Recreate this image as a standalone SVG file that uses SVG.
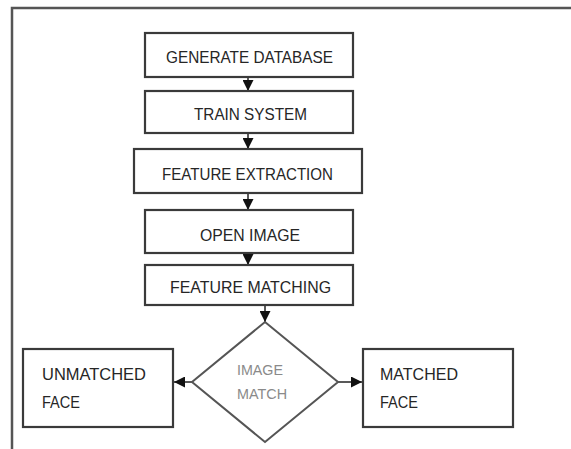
<svg xmlns="http://www.w3.org/2000/svg" width="571" height="449" viewBox="0 0 571 449">
<style>
.box{fill:#fff;stroke:#3a3a3a;stroke-width:2.2}
.t{font-family:"Liberation Sans",Arial,sans-serif;font-size:17px;fill:#262626}
.s{font-family:"Liberation Sans",Arial,sans-serif;font-size:14px;fill:#8a8a8a}
.c{stroke:#222;stroke-width:1.5;fill:none}
</style>
<defs>
<marker id="ah" viewBox="0 0 10 10" refX="10" refY="5" markerWidth="11" markerHeight="11" markerUnits="userSpaceOnUse" orient="auto">
<path d="M0,0 L10,5 L0,10 z" fill="#111"/>
</marker>
</defs>
<rect width="571" height="449" fill="#fff"/>
<path d="M12,449 L12,8 L571,8" fill="none" stroke="#555" stroke-width="2.5"/>
<g id="connectors">
<line class="c" x1="248" y1="77" x2="248" y2="91" marker-end="url(#ah)"/>
<line class="c" x1="248" y1="133" x2="248" y2="149" marker-end="url(#ah)"/>
<line class="c" x1="248" y1="193" x2="248" y2="210" marker-end="url(#ah)"/>
<line class="c" x1="248" y1="253" x2="248" y2="265" marker-end="url(#ah)"/>
<line class="c" x1="265" y1="305" x2="265" y2="322" marker-end="url(#ah)"/>
<line class="c" x1="192" y1="382" x2="174" y2="382" marker-end="url(#ah)"/>
<line class="c" x1="338" y1="382" x2="362" y2="382" marker-end="url(#ah)"/>
</g>
<g id="generate">
<rect class="box" x="145" y="33" width="208" height="44"/>
<text class="t" x="166" y="63" textLength="167" lengthAdjust="spacingAndGlyphs">GENERATE DATABASE</text>
</g>
<g id="train">
<rect class="box" x="145" y="91" width="208" height="42"/>
<text class="t" x="194" y="120" textLength="113" lengthAdjust="spacingAndGlyphs">TRAIN SYSTEM</text>
</g>
<g id="extraction">
<rect class="box" x="134" y="149" width="228" height="44"/>
<text class="t" x="162" y="180" textLength="171" lengthAdjust="spacingAndGlyphs">FEATURE EXTRACTION</text>
</g>
<g id="open">
<rect class="box" x="145" y="210" width="208" height="43"/>
<text class="t" x="200" y="241" textLength="100" lengthAdjust="spacingAndGlyphs">OPEN IMAGE</text>
</g>
<g id="matching">
<rect class="box" x="145" y="265" width="208" height="40"/>
<text class="t" x="170" y="293" textLength="161" lengthAdjust="spacingAndGlyphs">FEATURE MATCHING</text>
</g>
<g id="decision">
<polygon points="265,322 338,382 265,442 192,382" fill="#fff" stroke="#555" stroke-width="2"/>
<text class="s" x="237" y="375" textLength="46" lengthAdjust="spacingAndGlyphs">IMAGE</text>
<text class="s" x="237" y="399" textLength="50" lengthAdjust="spacingAndGlyphs">MATCH</text>
</g>
<g id="unmatched">
<rect class="box" x="23" y="349" width="150" height="78"/>
<text class="t" x="42" y="380" textLength="104" lengthAdjust="spacingAndGlyphs">UNMATCHED</text>
<text class="t" x="42" y="408" textLength="38" lengthAdjust="spacingAndGlyphs">FACE</text>
</g>
<g id="matched">
<rect class="box" x="363" y="349" width="150" height="78"/>
<text class="t" x="380" y="380" textLength="78" lengthAdjust="spacingAndGlyphs">MATCHED</text>
<text class="t" x="380" y="408" textLength="38" lengthAdjust="spacingAndGlyphs">FACE</text>
</g>
</svg>
